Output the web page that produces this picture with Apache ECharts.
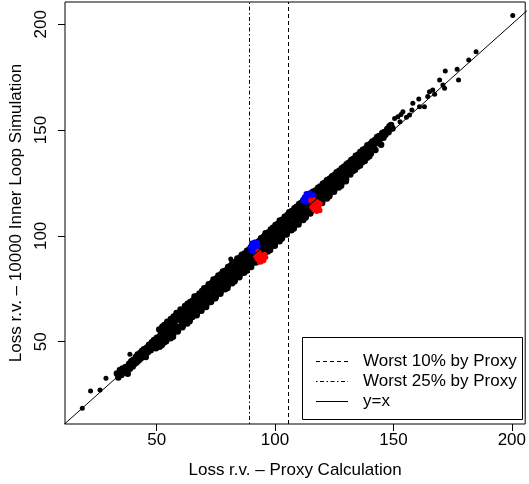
<!DOCTYPE html>
<html>
<head>
<meta charset="utf-8">
<script src="https://cdn.jsdelivr.net/npm/echarts@6/dist/echarts.min.js"></script>
<style>
html,body{margin:0;padding:0;background:#fff;}
#chart{width:529px;height:484px;}
</style>
</head>
<body>
<div id="chart"></div>
<script>
// ---- data ----
const xTicks = [50, 100, 150, 200];
const yTicks = [50, 100, 150, 200];
const xLabel = 'Loss r.v. \u2013 Proxy Calculation';
const yLabel = 'Loss r.v. \u2013 10000 Inner Loop Simulation';
const legendLabels = ['Worst 10% by Proxy', 'Worst 25% by Proxy', 'y=x'];
const worst10Proxy = [105.5];
const worst25Proxy = [89.0];
const identityRange = [0, 230];

const outlierPoints = [
[18.6,18.5],[22.1,26.7],[26.1,27.2],[28.6,32.7],[38.7,44.0],[81.3,89.1],
[150.5,155.5],[151.9,156.3],[152.8,153.9],[153.2,157.4],[154.0,158.7],[155.5,156.0],[156.8,157.1],[157.8,159.5],[158.2,162.6],
[160.7,164.7],[161.0,161.0],[163.1,161.0],[164.5,165.8],[165.2,168.1],[166.6,168.9],[167.4,166.9],[169.5,173.7],
[170.9,171.3],[171.6,169.7],[171.9,177.9],[176.9,178.7],[177.5,173.7],[181.8,183.1],[184.9,187.0],[200.4,204.1]
];

const bandPoints = [
[33.2,35.0],[33.8,33.1],[34.5,36.6],[35.1,34.2],[35.6,37.3],[36.2,35.4],[36.9,38.0],[37.3,36.1],[37.8,34.9],[38.4,39.6],
[38.7,37.2],[39.3,40.8],[39.9,38.3],[40.1,41.3],[40.6,39.5],[41.2,42.7],[41.5,40.2],[42.0,43.9],[42.4,41.1],[42.9,44.5],
[43.3,42.0],[43.8,45.6],[44.1,43.2],[44.6,46.4],[45.0,44.1],[45.4,42.8],[45.9,47.3],[46.3,45.0],[46.8,48.6],[47.1,47.6],
[47.5,45.9],[48.0,49.7],[48.4,47.1],[48.9,50.8],[49.2,48.3],[49.7,46.9],[50.1,51.9],[50.5,49.6],
[51.1,55.7],[51.5,52.8],[51.8,49.9],[51.3,47.6],
[52.0,54.6],[52.4,57.1],[52.7,50.8],[52.9,53.2],[52.2,48.4],
[53.3,57.9],[53.6,55.1],[53.9,51.2],[53.1,49.6],
[54.2,56.3],[54.5,59.4],[54.8,52.5],[54.0,50.2],[54.6,55.0],
[55.1,58.8],[55.4,56.9],[55.7,53.0],[55.9,51.6],
[56.0,60.7],[56.3,58.1],[56.6,54.4],[56.9,52.3],[56.5,57.0],
[57.2,61.9],[57.5,59.6],[57.8,55.2],[57.0,53.6],
[58.1,62.3],[58.3,60.2],[58.6,57.0],[58.9,54.8],[58.4,63.6],
[59.2,62.4],[59.5,60.9],[59.7,57.1],[59.0,55.3],
[60.1,65.2],[60.4,62.6],[60.7,59.4],[60.9,56.8],[60.3,61.0],
[61.2,64.7],[61.6,63.1],[61.8,58.9],[61.0,57.5],
[62.0,66.8],[62.3,64.0],[62.6,61.3],[62.9,58.6],[62.5,60.2],
[63.1,67.9],[63.4,65.6],[63.7,62.0],[63.9,59.7],
[64.2,68.7],[64.5,66.0],[64.8,63.3],[64.0,60.4],[64.4,62.1],
[65.3,69.4],[65.6,67.8],[65.9,64.1],[65.1,61.6],
[66.0,71.3],[66.3,68.5],[66.6,65.0],[66.9,62.5],[66.4,64.2],
[67.2,71.6],[67.5,69.3],[67.8,66.2],[67.0,63.4],
[68.1,72.8],[68.4,70.1],[68.7,67.3],[68.9,64.6],[68.3,66.0],
[69.2,73.9],[69.6,71.8],[69.8,68.0],[69.0,65.7],
[70.1,75.2],[70.3,72.4],[70.6,69.5],[70.9,66.4],[70.5,68.2],
[71.2,75.6],[71.5,73.0],[71.8,70.3],[71.0,67.6],
[72.0,77.1],[72.4,74.8],[72.7,71.4],[72.9,68.8],[72.2,70.0],
[73.3,77.7],[73.6,75.3],[73.9,72.1],[73.1,69.2],
[74.0,79.4],[74.3,76.5],[74.6,73.2],[74.8,70.5],[74.5,71.9],
[75.2,79.9],[75.5,77.6],[75.8,74.6],[75.0,71.3],
[76.1,81.3],[76.4,78.7],[76.7,75.1],[76.9,72.7],[76.3,74.2],
[77.2,81.8],[77.5,79.4],[77.8,76.0],[77.0,73.5],
[78.0,83.2],[78.3,80.6],[78.6,77.4],[78.9,74.8],[78.5,76.1],
[79.1,83.6],[79.4,81.5],[79.7,78.2],[79.9,75.4],
[80.2,85.3],[80.5,82.7],[80.8,79.3],[80.0,76.3],[80.4,77.9],
[81.1,85.7],[81.4,83.0],[81.7,80.4],[81.9,77.6],
[82.0,87.4],[82.3,84.8],[82.6,81.2],[82.9,78.5],[82.5,80.1],
[83.2,87.6],[83.5,85.2],[83.8,82.3],[83.0,79.3],
[84.1,89.3],[84.4,86.6],[84.7,83.1],[84.9,80.4],[84.3,82.0],
[85.2,89.8],[85.5,87.4],[85.8,84.2],[85.0,81.4],
[86.0,91.1],[86.3,88.7],[86.6,85.4],[86.9,82.6],[86.5,84.0],
[87.1,91.7],[87.4,89.2],[87.7,86.1],[87.9,83.5],
[88.2,93.0],[88.5,90.6],[88.8,87.3],[88.0,84.2],[88.4,85.9],
[89.1,93.5],[89.4,91.2],[89.7,88.0],[89.9,85.3],
[90.2,95.1],[90.5,92.4],[90.8,89.2],[90.0,86.3],[90.4,87.8],
[91.1,95.6],[91.4,93.1],[91.7,90.0],[91.9,87.4],
[92.0,96.8],[92.3,94.5],[92.6,91.2],[92.9,88.6],[92.5,90.0],
[93.2,97.4],[93.5,95.0],[93.8,92.3],[93.0,89.5],
[94.1,98.9],[94.4,96.3],[94.7,93.1],[94.9,90.7],[94.3,92.0],
[95.2,99.6],[95.5,97.2],[95.8,94.0],[95.0,91.4],
[96.0,101.2],[96.3,98.5],[96.6,95.4],[96.9,92.6],[96.5,94.1],
[97.1,101.6],[97.4,99.1],[97.7,96.2],[97.9,93.3],
[98.2,103.0],[98.5,100.4],[98.8,97.3],[98.0,94.4],[98.4,95.8],
[99.1,103.8],[99.4,101.2],[99.7,98.0],[99.9,95.3],
[100.2,105.1],[100.5,102.3],[100.8,99.4],[100.0,96.5],[100.4,97.9],
[101.1,105.6],[101.4,103.2],[101.7,100.1],[101.9,97.4],
[102.0,107.2],[102.3,104.6],[102.6,101.4],[102.9,98.7],[102.5,100.0],
[103.2,107.7],[103.5,105.3],[103.8,102.2],[103.0,99.3],
[104.1,109.0],[104.4,106.5],[104.7,103.3],[104.9,100.6],[104.3,102.0],
[105.2,109.8],[105.5,107.2],[105.8,104.1],[105.0,101.4],
[106.0,111.1],[106.3,108.6],[106.6,105.4],[106.9,102.7],[106.5,104.0],
[107.1,111.7],[107.4,109.3],[107.7,106.0],[107.9,103.5],
[108.2,113.0],[108.5,110.5],[108.8,107.3],[108.0,104.3],[108.4,105.9],
[109.1,113.8],[109.4,111.2],[109.7,108.1],[109.9,105.4],
[110.2,115.0],[110.5,112.4],[110.8,109.3],[110.0,106.4],[110.4,107.9],
[111.1,115.7],[111.4,113.1],[111.7,110.0],[111.9,107.5],
[112.0,117.0],[112.3,114.6],[112.6,111.4],[112.9,108.7],[112.5,110.1],
[113.2,117.6],[113.5,115.2],[113.8,112.1],[113.0,109.3],
[114.1,118.8],[114.4,116.4],[114.7,113.2],[114.9,110.6],[114.3,111.9],
[115.2,119.5],[115.5,117.1],[115.8,114.0],[115.0,111.4],
[116.0,120.8],[116.3,118.4],[116.6,115.3],[116.9,112.6],[116.5,114.0],
[117.1,121.4],[117.4,119.2],[117.7,116.1],[117.9,113.5],
[118.2,122.7],[118.5,120.4],[118.8,117.2],[118.0,114.4],[118.4,115.8],
[119.1,123.3],[119.4,121.1],[119.7,118.0],[119.9,115.5],
[120.2,124.6],[120.5,122.3],[120.8,119.3],[120.0,116.6],[120.4,117.9],
[121.1,125.2],[121.4,123.0],[121.7,120.1],[121.9,117.6],
[122.0,126.4],[122.3,124.2],[122.6,121.3],[122.9,118.7],[122.5,120.0],
[123.2,127.1],[123.5,125.0],[123.8,122.1],[123.0,119.5],
[124.1,128.2],[124.4,126.1],[124.7,123.2],[124.9,120.8],
[125.2,128.9],[125.5,126.8],[125.8,124.0],[125.0,121.6],
[126.0,130.1],[126.3,128.0],[126.6,125.3],[126.9,122.8],
[127.1,130.8],[127.4,128.7],[127.7,126.1],[127.9,123.7],
[128.2,131.9],[128.5,129.8],[128.8,127.1],[128.0,124.6],
[129.1,132.6],[129.4,130.6],[129.7,128.0],[129.9,125.8],
[130.2,133.8],[130.5,131.7],[130.8,129.1],[130.0,126.7],
[131.1,134.5],[131.5,132.2],[131.8,129.0],
[132.2,135.9],[132.6,133.4],[132.9,130.6],
[133.0,136.3],[133.4,134.6],[133.8,131.2],
[134.1,137.8],[134.5,135.1],[134.9,132.7],
[135.2,138.4],[135.6,136.5],[135.9,133.3],
[136.0,139.6],[136.4,137.2],[136.8,134.8],
[137.1,140.7],[137.5,138.6],[137.9,135.4],
[138.2,141.3],[138.6,139.5],[138.9,136.9],
[139.0,142.8],[139.4,140.1],[139.8,137.6],
[140.3,143.5],[140.7,141.9],[140.5,138.9],
[141.1,144.6],[141.6,142.4],
[142.2,145.3],[142.7,143.8],[142.4,140.6],
[143.1,146.7],[143.6,144.5],
[144.0,147.2],[144.5,145.9],[144.8,143.0],
[145.3,148.6],[145.8,146.4],
[146.2,149.1],[146.6,147.8],
[147.4,150.5],[147.9,148.9],
[148.3,151.8],
[149.0,152.4],[149.6,150.7]
];

const bluePoints = [
[89.6,94.8],[90.2,96.5],[90.8,95.2],[91.3,97.0],[91.9,95.9],[92.5,96.8],[90.5,93.4],[91.6,93.9],[89.9,93.0],[92.8,95.1],[91.0,92.6],
[111.8,116.6],[112.5,118.4],[113.2,119.9],[113.9,118.1],[114.6,120.2],[115.3,119.0],[115.9,117.6],[114.1,116.3],[112.8,116.0],[116.2,119.3]
];
const redPoints = [
[91.9,90.4],[92.6,88.9],[93.3,91.8],[93.8,89.3],[94.5,90.7],[95.2,88.4],[95.6,91.2],[94.1,87.8],[92.9,92.6],[96.0,89.9],[93.5,87.7],
[115.2,116.8],[115.9,114.9],[116.5,116.9],[117.2,114.1],[117.8,116.0],[118.5,113.6],[119.0,115.2],[116.4,112.3],[117.6,111.6],[118.9,112.0],[115.6,113.6]
];

// ---- chart ----
const FONT = '"Liberation Sans", Arial, Helvetica, sans-serif';
const chart = echarts.init(document.getElementById('chart'), null, {renderer: 'canvas'});

const lx = 302, ly = 337;
const rowY = [361, 381, 401];
const dashes = [[4, 3], [1.5, 2.5, 4, 2.5], null];

const legendGraphics = [{
  type: 'rect', z: 100,
  shape: {x: lx + 0.5, y: ly + 0.5, width: 220, height: 82},
  style: {fill: '#fff', stroke: '#000', lineWidth: 1}
}];
legendLabels.forEach((lab, i) => {
  legendGraphics.push({
    type: 'line', z: 101,
    shape: {x1: 316, y1: rowY[i] + 0.5, x2: 348, y2: rowY[i] + 0.5},
    style: {stroke: '#000', lineWidth: 1, lineDash: dashes[i] || null}
  });
  legendGraphics.push({
    type: 'text', z: 101, x: 363, y: rowY[i],
    style: {text: lab, fill: '#000', font: '17px ' + FONT, verticalAlign: 'middle', align: 'left'}
  });
});

const pointStyle = (c) => ({color: c, opacity: 1, borderWidth: 0});

const option = {
  animation: false,
  backgroundColor: '#fff',
  grid: {left: 65, right: 3, top: 2, bottom: 60, show: true, borderColor: '#000', borderWidth: 1, backgroundColor: 'transparent'},
  xAxis: {
    type: 'value', min: 11.3, max: 205.65,
    axisLine: {show: false},
    splitLine: {show: false},
    axisTick: {show: true, customValues: xTicks, length: 7, inside: false, lineStyle: {color: '#000', width: 1}},
    axisLabel: {customValues: xTicks, fontSize: 17, color: '#000', fontFamily: FONT, margin: 8},
    name: xLabel, nameLocation: 'middle', nameGap: 38,
    nameTextStyle: {fontSize: 17, color: '#000', fontFamily: FONT}
  },
  yAxis: {
    type: 'value', min: 11.1, max: 210.5,
    axisLine: {show: false},
    splitLine: {show: false},
    axisTick: {show: true, customValues: yTicks, length: 7, inside: false, lineStyle: {color: '#000', width: 1}},
    axisLabel: {customValues: yTicks, fontSize: 17, color: '#000', fontFamily: FONT, margin: 15, rotate: 90},
    name: yLabel, nameLocation: 'middle', nameGap: 40,
    nameTextStyle: {fontSize: 17, color: '#000', fontFamily: FONT}
  },
  series: [
    {
      type: 'scatter', name: 'band', symbol: 'circle', symbolSize: 6.5,
      itemStyle: pointStyle('#000'), silent: true, data: bandPoints, z: 2
    },
    {
      type: 'scatter', name: 'outliers', symbol: 'circle', symbolSize: 5,
      itemStyle: pointStyle('#000'), silent: true, data: outlierPoints, z: 2
    },
    {
      type: 'scatter', name: 'blue', symbol: 'circle', symbolSize: 5.5,
      itemStyle: pointStyle('#0000ff'), silent: true, data: bluePoints, z: 3
    },
    {
      type: 'scatter', name: 'red', symbol: 'circle', symbolSize: 5.5,
      itemStyle: pointStyle('#ff0000'), silent: true, data: redPoints, z: 3
    },
    {
      type: 'line', name: 'y=x', symbol: 'none', silent: true, clip: true, z: 4,
      lineStyle: {color: '#000', width: 1},
      data: identityRange.map(v => [v, v]),
      markLine: {
        symbol: 'none', silent: true, label: {show: false},
        data: [
          {xAxis: worst10Proxy[0], lineStyle: {color: '#000', width: 1, type: [4, 3]}},
          {xAxis: worst25Proxy[0], lineStyle: {color: '#000', width: 1, type: [1.5, 2.5, 4, 2.5]}}
        ]
      }
    }
  ],
  graphic: legendGraphics
};
chart.setOption(option);
</script>
</body>
</html>
